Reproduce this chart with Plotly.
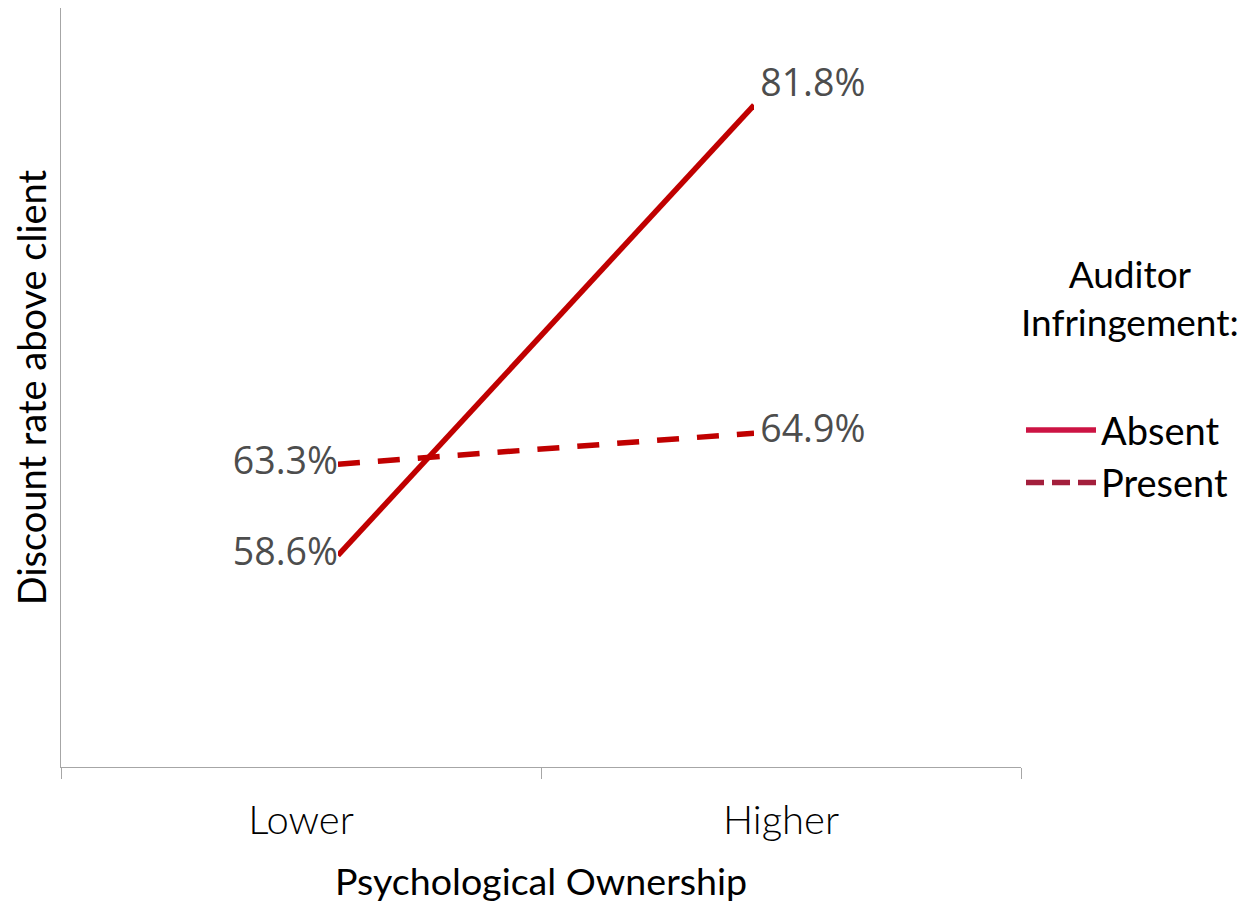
import plotly.graph_objects as go

categories = ["Lower", "Higher"]
absent = [58.6, 81.8]
present = [63.3, 64.9]
series_names = ["Absent", "Present"]
legend_title = "Auditor<br>Infringement:"
x_title = "Psychological Ownership"
y_title = "Discount rate above client"

LINE = "#C00000"
LEG_COLORS = ["#CC1443", "#A31F3C"]
LABEL_FONT = dict(family="Open Sans", size=37.5, color="#4d4d4d")
AXIS_GRAY = "#a6a6a6"


def labels(values, positions):
    out = []
    for v, p in zip(values, positions):
        s = f"{v:.1f}%"
        out.append("\u2009" + s if "right" in p else s)
    return out


abs_pos = ["middle left", "top right"]
pre_pos = ["middle left", "middle right"]

fig = go.Figure()
fig.add_trace(go.Scatter(
    x=categories, y=absent, mode="lines+text", xaxis="x", yaxis="y",
    line=dict(color=LINE, width=5.5), cliponaxis=False,
    text=labels(absent, abs_pos), textposition=abs_pos,
    textfont=LABEL_FONT, showlegend=False, hoverinfo="skip"))
fig.add_trace(go.Scatter(
    x=categories, y=present, mode="lines+text", xaxis="x", yaxis="y",
    line=dict(color=LINE, width=5.5, dash="22px,18px"), cliponaxis=False,
    text=labels(present, pre_pos), textposition=pre_pos,
    textfont=LABEL_FONT, showlegend=False, hoverinfo="skip"))
for name, col, dash in zip(series_names, LEG_COLORS, ["solid", "18px,8px"]):
    fig.add_trace(go.Scatter(
        x=categories, y=[None, None], mode="lines", xaxis="x2", yaxis="y",
        name=name, legendgroup=name, line=dict(color=col, width=5.5, dash=dash),
        hoverinfo="skip"))

fig.update_layout(
    width=1242, height=895, autosize=False,
    margin=dict(l=53, r=229, t=0, b=136),
    paper_bgcolor="white", plot_bgcolor="rgba(0,0,0,0)",
    font=dict(family="Lato", color="#000000"),
    xaxis=dict(domain=[0.2885, 0.7219], range=[0, 1], type="category",
               categoryorder="array", categoryarray=categories,
               visible=False, anchor="y", fixedrange=True),
    xaxis2=dict(domain=[0, 1], anchor="y", type="category",
                categoryorder="array", categoryarray=categories,
                range=[-0.5, 1.5], tickson="boundaries", ticks="outside",
                ticklen=11, tickcolor=AXIS_GRAY, tickwidth=1.3,
                showline=True, linecolor=AXIS_GRAY, linewidth=1.3,
                showgrid=False, zeroline=False, ticklabelstandoff=18,
                tickfont=dict(family="Lato", size=40, color="#000000", weight=300),
                title=dict(text=x_title, font=dict(family="Lato", size=37.6, color="#000000"),
                           standoff=32)),
    yaxis=dict(range=[47.7, 86.8], anchor="x2", showline=True, linecolor=AXIS_GRAY,
               linewidth=1.3, showticklabels=False, ticks="", showgrid=False,
               zeroline=False,
               title=dict(text=y_title, font=dict(family="Lato", size=38, color="#000000"),
                          standoff=8)),
    legend=dict(x=1.0, xanchor="left", y=0.485, yanchor="top",
                font=dict(family="Lato", size=38, color="#000000"),
                itemwidth=70, tracegroupgap=0, bgcolor="rgba(0,0,0,0)"),
    annotations=[dict(text=legend_title, xref="paper", yref="paper",
                      x=1.1135, y=0.618, xanchor="center", yanchor="middle",
                      align="center", showarrow=False,
                      font=dict(family="Lato", size=37, color="#000000"))],
)

fig.write_html("out.html")
